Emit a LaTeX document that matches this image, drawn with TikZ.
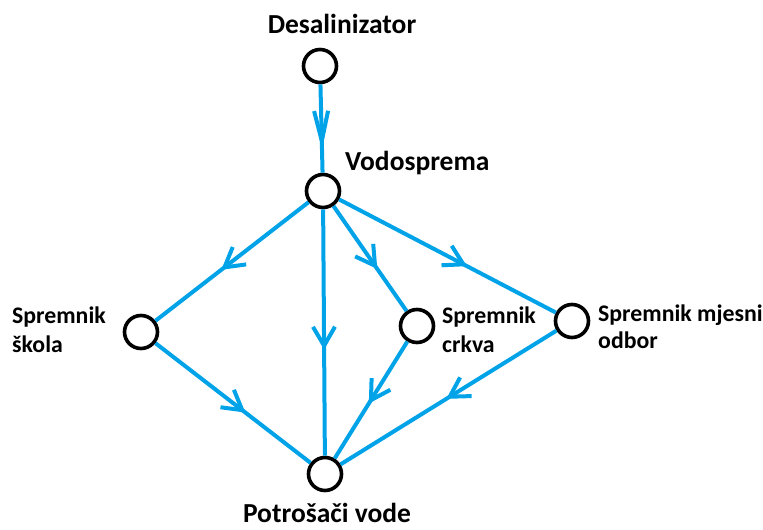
\documentclass[tikz,border=0pt]{standalone}
\usepackage{fontspec}
\setmainfont{Carlito}
\usetikzlibrary{arrows.meta,decorations.markings,positioning}
\definecolor{pipe}{RGB}{0,162,232}
\tikzset{
    vertex/.style={circle, draw, line width=3.6pt, minimum size=33pt, inner sep=0pt},
    edge/.style={draw=pipe, line width=4pt, postaction={decorate},
        decoration={markings, mark=at position #1 with {\arrow[pipe]{Straight Barb[length=19pt,width=22pt]}}}},
    edge/.default=0.57,
    feed/.style={draw=pipe, line width=4pt, postaction={decorate},
        decoration={markings, mark=at position 0.74 with {\arrow[pipe]{Straight Barb[length=30pt,width=14pt]}}}},
    title/.style={font=\bfseries\fontsize{27.5}{29}\selectfont, inner sep=0pt, text depth=0pt},
    tag/.style={font=\bfseries\fontsize{23.8}{29}\selectfont, inner sep=0pt, align=left}
}
\begin{document}
\begin{tikzpicture}[x=1pt, y=-1pt]
    \useasboundingbox (0,0) rectangle (763,530);
    % Nodes
    \node[vertex] (desal) at (320,66) {};
    \node[vertex] (vodo) at (323,191) {};
    \node[vertex] (skola) at (141,332) {};
    \node[vertex] (crkva) at (417,326) {};
    \node[vertex] (odbor) at (572,321) {};
    \node[vertex] (potr) at (325,474) {};

    % labels
    \node[title, anchor=base] (tdesal) at (342,33) {Desalinizator};
    \node[title, anchor=base west] (tvodo) at (345,170) {Vodosprema};
    \node[tag, anchor=base west] (tskola) at (12,352) {Spremnik\\škola};
    \node[tag, anchor=base west] (tcrkva) at (442,352) {Spremnik\\crkva};
    \node[tag, anchor=base west, font=\bfseries\fontsize{23.8}{27}\selectfont] (todbor) at (598,348) {Spremnik mjesni\\odbor};
    \node[title, anchor=base] (tpotr) at (327,522) {Potrošači vode};

    % edges
    \draw[feed] (desal) -- (vodo);
    \draw[edge=0.57] (vodo) -- (skola);
    \draw[edge=0.57] (vodo) -- (potr);
    \draw[edge=0.6] (vodo) -- (crkva);
    \draw[edge=0.59] (vodo) -- (odbor);
    \draw[edge=0.58] (skola) -- (potr);
    \draw[edge=0.53] (crkva) -- (potr);
    \draw[edge=0.51] (odbor) -- (potr);
\end{tikzpicture}
\end{document}
